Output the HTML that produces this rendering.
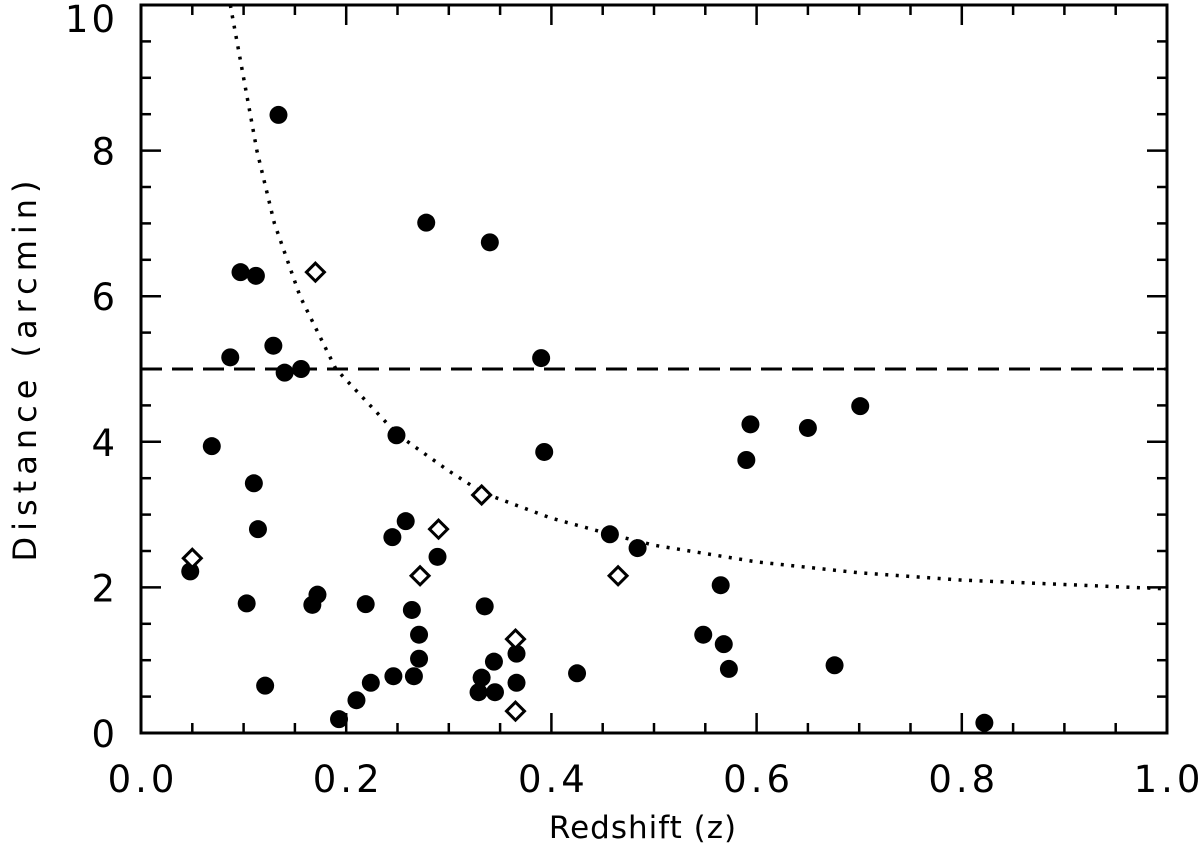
<!DOCTYPE html>
<html><head><meta charset="utf-8"><style>
body{margin:0;background:#fff}
svg text{font-family:"DejaVu Sans","Liberation Sans",sans-serif;fill:#000}
</style></head><body>
<svg width="1200" height="862" viewBox="0 0 1200 862">
<g id="g"></g>
</svg>
<script>
const filledZ=[0.048,0.069,0.087,0.097,0.112,0.110,0.114,0.103,0.121,0.134,0.129,0.140,0.156,0.167,0.172,0.193,0.210,0.219,0.224,0.246,0.245,0.249,0.258,0.264,0.266,0.271,0.271,0.289,0.278,0.329,0.332,0.335,0.340,0.344,0.345,0.366,0.366,0.390,0.393,0.425,0.457,0.484,0.548,0.565,0.568,0.573,0.590,0.594,0.650,0.676,0.701,0.822];
const filledD=[2.22,3.94,5.16,6.33,6.28,3.43,2.80,1.78,0.65,8.49,5.32,4.95,5.0,1.76,1.90,0.19,0.45,1.77,0.69,0.78,2.69,4.09,2.91,1.69,0.78,1.35,1.02,2.42,7.01,0.56,0.76,1.74,6.74,0.98,0.56,1.09,0.69,5.15,3.86,0.82,2.73,2.54,1.35,2.03,1.22,0.88,3.75,4.24,4.19,0.93,4.49,0.14];
const openZ=[0.050,0.170,0.272,0.290,0.332,0.365,0.365,0.465];
const openD=[2.40,6.33,2.16,2.80,3.27,1.29,0.30,2.16];
const curveZ=[0.087,0.1,0.113,0.13,0.155,0.19,0.25,0.3,0.333,0.4,0.46,0.5,0.6,0.7,0.8,0.9,1.0];
const curveD=[10,9,8,7,6,5,4.1,3.6,3.3,2.95,2.72,2.58,2.35,2.2,2.1,2.04,1.98];
const limitD=5;
const xTicks=["0.0","0.2","0.4","0.6","0.8","1.0"];
const yTicks=["0","2","4","6","8","10"];
const L=141,R=1167,T=5,B=733;
const X=z=>L+z*(R-L), Y=d=>B-d/10*(B-T);
const g=document.getElementById('g'),NS='http://www.w3.org/2000/svg';
function mk(t,a,txt){const e=document.createElementNS(NS,t);for(const k in a)e.setAttribute(k,a[k]);if(txt!==undefined)e.textContent=txt;g.appendChild(e);return e;}
let p='';curveZ.forEach((z,i)=>{p+=(i?'L':'M')+X(z).toFixed(1)+' '+Y(curveD[i]).toFixed(1);});
let c=mk('path',{d:p,fill:'none',stroke:'#000','stroke-width':3.5,'stroke-dasharray':'3 7.5'});


let dl=mk('line',{x1:L,x2:R,y1:Y(limitD),y2:Y(limitD),stroke:'#000','stroke-width':3,'stroke-dasharray':'21 10'});


filledZ.forEach((z,i)=>{const e=mk('circle',{cx:X(z),cy:Y(filledD[i]),r:9,fill:'#000'});

});
openZ.forEach((z,i)=>{const x=X(z),y=Y(openD[i]),s=9;const e=mk('polygon',{points:`${x},${y-s} ${x+s},${y} ${x},${y+s} ${x-s},${y}`,fill:'#fff',stroke:'#000','stroke-width':3});

});
let f=mk('rect',{x:L,y:T,width:R-L,height:B-T,fill:'none',stroke:'#000','stroke-width':3});


for(let i=0;i<=20;i++){const z=i*0.05,x=X(z),len=i%4==0?20:10;
mk('line',{x1:x,x2:x,y1:B,y2:B-len,stroke:'#000','stroke-width':2.5});
mk('line',{x1:x,x2:x,y1:T,y2:T+len,stroke:'#000','stroke-width':2.5});}
for(let i=0;i<=20;i++){const y=Y(i*0.5),len=i%4==0?20:10;
mk('line',{x1:L,x2:L+len,y1:y,y2:y,stroke:'#000','stroke-width':2.5});
mk('line',{x1:R,x2:R-len,y1:y,y2:y,stroke:'#000','stroke-width':2.5});}
xTicks.forEach((t,i)=>{const e=mk('text',{x:X(i*0.2)+2,y:792,'font-size':37,'letter-spacing':4,'text-anchor':'middle'},t);

});
yTicks.forEach((t,i)=>{const e=mk('text',{x:118,y:Math.max(Y(i*2)+14,32),'font-size':37,'letter-spacing':3,'text-anchor':'end'},t);

});
let xt=mk('text',{x:643,y:838,'font-size':31,'letter-spacing':1,'text-anchor':'middle'},'Redshift (z)');


let yt=mk('text',{x:0,y:0,'font-size':32,'letter-spacing':6,'text-anchor':'middle',transform:'translate(36,368) rotate(-90)'},'Distance (arcmin)');


</script>
</body></html>
